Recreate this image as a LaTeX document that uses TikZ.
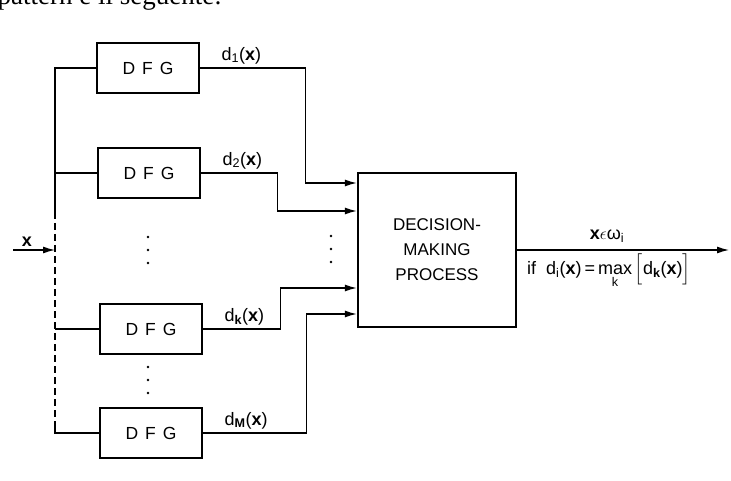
\documentclass[tikz,border=0pt]{standalone}
\usepackage{amsmath}
\usepackage{fontspec}
\setmainfont{Liberation Sans}
\newfontfamily\bookfont{Liberation Serif}
\usetikzlibrary{positioning,arrows.meta}

\begin{document}
\begin{tikzpicture}[x=1pt,y=-1pt,
  dfg/.style={draw,line width=2.6pt,minimum width=102pt,minimum height=50pt,font=\fontsize{17.5}{20}\selectfont},
  dmp/.style={draw,line width=2.4pt,minimum width=158pt,minimum height=154pt,align=center,font=\fontsize{17}{25}\selectfont},
  sig/.style={line width=1.3pt},
  arr/.style={sig,-{Latex[length=12pt,width=7pt]}},
  lbl/.style={font=\fontsize{18}{21}\selectfont,inner sep=1pt}]
\useasboundingbox (0,0) rectangle (731,481);
\clip (0,0) rectangle (731,481);
\node[font=\bookfont\fontsize{27}{30}\selectfont,anchor=base east,inner sep=0pt] (head) at (222,5) {pattern è il seguente:};
% discriminant function generators
\node[dfg] (dfg1) at (148,68) {D\hspace{.4em}F\hspace{.4em}G};
\node[dfg] (dfg2) at (149,173) {D\hspace{.4em}F\hspace{.4em}G};
\node[dfg] (dfgk) at (151,329) {D\hspace{.4em}F\hspace{.4em}G};
\node[dfg] (dfgm) at (151,433) {D\hspace{.4em}F\hspace{.4em}G};
\node[dmp] (dmp) at (437,250) {DECISION-\\MAKING\\PROCESS};
\node[lbl,above right=3pt and 20pt of dfg1.east] (d1) {d\textsubscript{1}(\textbf{x})};
\node[lbl,above right=3pt and 20pt of dfg2.east] (d2) {d\textsubscript{2}(\textbf{x})};
\node[lbl,above right=3pt and 20pt of dfgk.east] (dk) {d\textsubscript{\textbf{k}}(\textbf{x})};
\node[lbl,above right=3pt and 20pt of dfgm.east] (dm) {d\textsubscript{\textbf{M}}(\textbf{x})};
% input bus
\coordinate (btop) at (55,68);
\coordinate (bsplit) at (55,212);
\coordinate (bbot) at (55,433);
\coordinate (bx) at (55,250);
\coordinate (xin) at (13,250);
\node[lbl,font=\fontsize{18}{21}\selectfont\bfseries,above=2pt of xin,xshift=14pt] (xlbl) {x};
\draw[arr] (xin) -- (bx);
\draw[sig] (dfg1.west) -| (bsplit);
\draw[sig,dash pattern=on 7pt off 4pt] (bsplit) -- ([yshift=8pt]bbot);
\draw[sig] ([yshift=8pt]bbot) -- (bbot) -- (dfgm.west);
\draw[sig] (dfg2.west) -- (dfg2.west -| btop);
\draw[sig] (dfgk.west) -- (dfgk.west -| btop);
\foreach \y in {237,250,263} \fill (148,\y) circle (1.4pt);
\foreach \y in {367,380,393} \fill (148,\y) circle (1.4pt);
\foreach \y in {236,249,262} \fill (331,\y) circle (1.4pt);
% into the decision box
\coordinate (in1) at ([yshift=67pt]dmp.west);
\coordinate (in2) at ([yshift=39pt]dmp.west);
\coordinate (ink) at ([yshift=-38pt]dmp.west);
\coordinate (inm) at ([yshift=-64pt]dmp.west);
\draw[arr] (dfg1.east) -- ++(105,0) |- (in1);
\draw[arr] (dfg2.east) -- ++(76,0) |- (in2);
\draw[arr] (dfgk.east) -- ++(77,0) |- (ink);
\draw[arr] (dfgm.east) -- ++(103,0) |- (inm);
% output
\coordinate (xout) at (729,250);
\draw[arr] (dmp.east) -- (xout);
\node[lbl] (cls) at (607,236) {\textbf{x}$\epsilon$ω\textsubscript{i}};
\node[lbl,anchor=base west] (rule) at (526,274) {if\ \ d\textsubscript{i}(\textbf{x})\,=\,$\mathop{\text{max}}\limits_{\text{k}}\Big[$d\textsubscript{\textbf{k}}(\textbf{x})$\Big]$};
\end{tikzpicture}
\end{document}
